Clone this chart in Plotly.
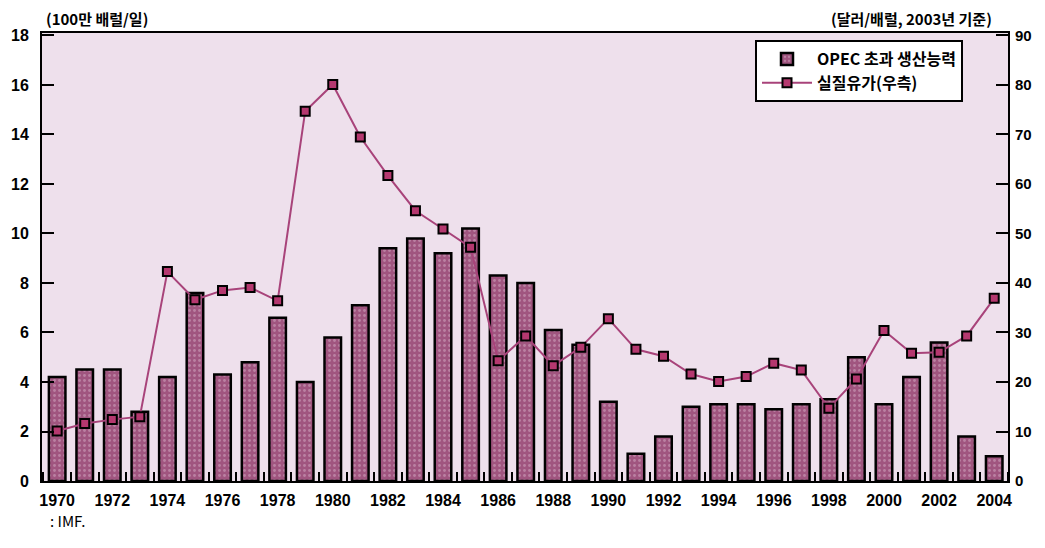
import plotly.graph_objects as go

years = list(range(1970, 2005))
spare_capacity = [4.2, 4.5, 4.5, 2.8, 4.2, 7.6, 4.3, 4.8, 6.6, 4.0,
                  5.8, 7.1, 9.4, 9.8, 9.2, 10.2, 8.3, 8.0, 6.1, 5.5,
                  3.2, 1.1, 1.8, 3.0, 3.1, 3.1, 2.9, 3.1, 3.3, 5.0,
                  3.1, 4.2, 5.6, 1.8, 1.0]
real_price = [10.1, 11.6, 12.4, 13.0, 42.3, 36.6, 38.5, 39.1, 36.4, 74.7,
              80.1, 69.5, 61.7, 54.6, 50.9, 47.2, 24.3, 29.3, 23.3, 27.0,
              32.8, 26.6, 25.2, 21.6, 20.1, 21.1, 23.8, 22.4, 14.7, 20.6,
              30.4, 25.8, 26.0, 29.3, 36.9]
left_ticks = [0, 2, 4, 6, 8, 10, 12, 14, 16, 18]
right_ticks = [0, 10, 20, 30, 40, 50, 60, 70, 80, 90]
x_label_years = list(range(1970, 2005, 2))

bar_name = "OPEC 초과 생산능력"
line_name = "실질유가(우측)"
left_unit = "(100만 배럴/일)"
right_unit = "(달러/배럴, 2003년 기준)"
source = ": IMF."

tick_font = dict(family="Liberation Sans", size=16, color="black", weight="bold")
right_tick_font = dict(family="Liberation Sans", size=15, color="black", weight="bold")
kr_font = dict(family="Noto Sans CJK KR", size=15, color="black", weight="bold")

# the page body has an 8px margin; work in window pixels and compensate
OFF = 8
W, H = 1045 - OFF, 548 - OFF
pl, pr, pt, pb = 42 - OFF, 1008 - OFF, 33 - OFF, 481 - OFF

fig = go.Figure()
fig.add_trace(go.Bar(
    x=years, y=spare_capacity, name=bar_name, width=0.6,
    marker=dict(color="#a0557f", line=dict(color="black", width=2.5),
                pattern=dict(shape=".", fgcolor="#d6aec6", bgcolor="#a0557f",
                             size=5, solidity=0.25)),
    yaxis="y",
))
fig.add_trace(go.Scatter(
    x=years, y=real_price, name=line_name, mode="lines+markers",
    line=dict(color="#a8437a", width=2),
    marker=dict(symbol="square", size=9, color="#b5386f",
                line=dict(color="black", width=2)),
    yaxis="y2",
))

fig.update_layout(
    width=W, height=H,
    margin=dict(l=pl, r=W - pr, t=pt, b=H - pb, autoexpand=False),
    paper_bgcolor="white",
    plot_bgcolor="#eee0ec",
    showlegend=True,
    legend=dict(x=(963 - OFF - pl) / (pr - pl), y=(pb - (40 - OFF)) / (pb - pt),
                xanchor="right", yanchor="top",
                bgcolor="white", bordercolor="black", borderwidth=2,
                font=dict(family="Noto Sans CJK KR", size=16, color="black", weight="bold"),
                tracegroupgap=0, itemwidth=50),
    xaxis=dict(range=[1969.45, 2004.5], tickmode="array", tickvals=x_label_years,
               ticktext=[str(y) for y in x_label_years], ticks="",
               tickfont=tick_font, showgrid=False, zeroline=False, automargin=False,
               showline=True, linecolor="black", linewidth=2, mirror=True,
               ticklabelstandoff=4,
               minor=dict(tick0=1970.5, dtick=1, ticks="inside", ticklen=9,
                          tickwidth=2, tickcolor="black", showgrid=False)),
    yaxis=dict(range=[0, 18.1], tickmode="array", tickvals=left_ticks,
               ticks="inside", ticklen=12, tickwidth=2, tickcolor="black",
               tickfont=tick_font, showgrid=False, zeroline=False, automargin=False,
               ticklabelstandoff=8,
               showline=True, linecolor="black", linewidth=2),
    yaxis2=dict(range=[0, 90.5], tickmode="array", tickvals=right_ticks,
                overlaying="y", side="right", automargin=False,
                ticks="inside", ticklen=12, tickwidth=2, tickcolor="black",
                tickfont=right_tick_font, showgrid=False, zeroline=False,
                ticklabelstandoff=2,
                showline=True, linecolor="black", linewidth=2),
)

def to_paper(px, py):
    return (px - OFF - pl) / (pr - pl), (pb - (py - OFF)) / (pb - pt)

ann_specs = [
    (left_unit, 44, 18, "left", kr_font),
    (right_unit, 994, 18, "right", kr_font),
    (source, 48, 520, "left", dict(family="Noto Sans CJK KR", size=15, color="black")),
]
anns = []
for text, px, py, anchor, font in ann_specs:
    x, y = to_paper(px, py)
    anns.append(dict(text=text, x=x, y=y, xref="paper", yref="paper",
                     showarrow=False, font=font, xanchor=anchor, yanchor="middle"))
fig.update_layout(annotations=anns)

fig.write_html("out.html")
